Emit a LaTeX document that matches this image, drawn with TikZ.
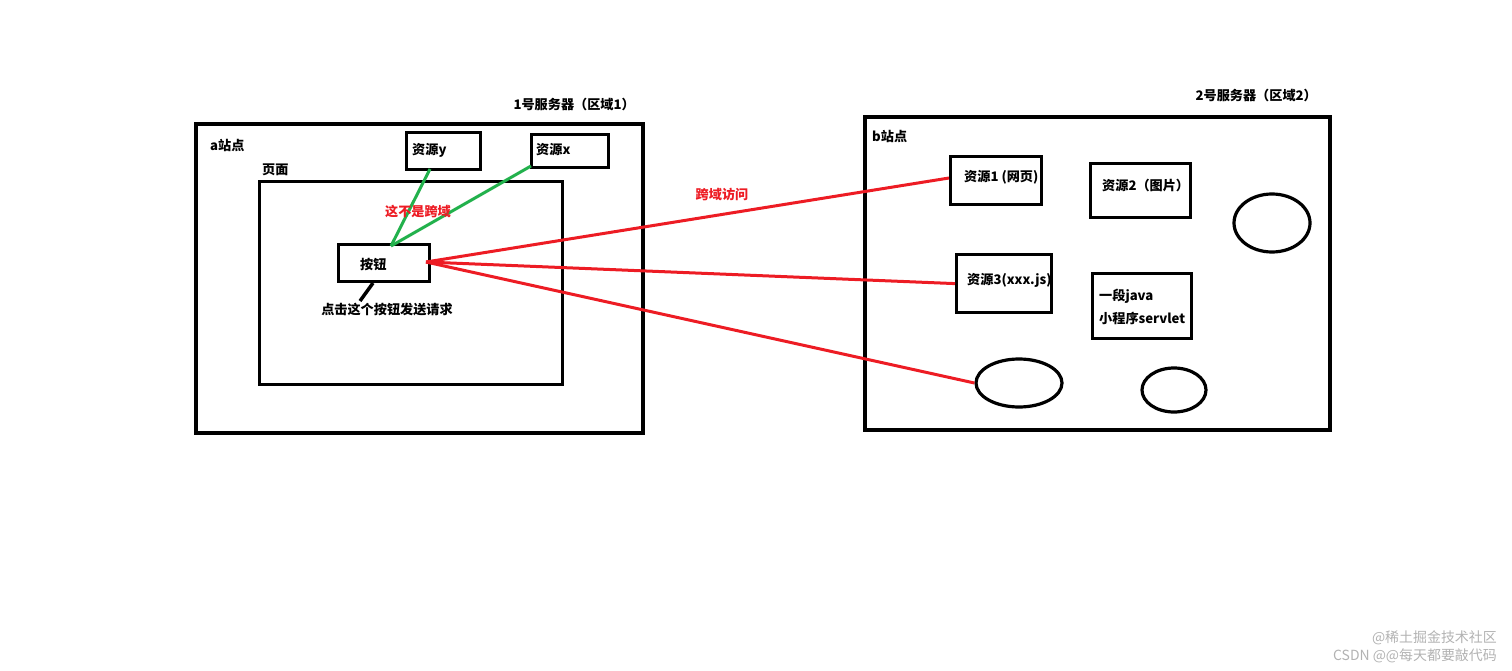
\documentclass[tikz,border=0pt]{standalone}
\usepackage{fontspec}
\newfontfamily\cjk{Noto Sans CJK SC}
\usetikzlibrary{shapes.geometric,calc}
\definecolor{paintred}{RGB}{237,28,36}
\definecolor{paintgreen}{RGB}{34,177,76}
\tikzset{
  box/.style={draw, line width=3.2bp, anchor=north west, inner sep=0pt},
  bigbox/.style={draw, line width=4bp, anchor=north west, inner sep=0pt},
  oval/.style={draw, ellipse, line width=3.2bp, inner sep=0pt},
  lbl/.style={font=\cjk\bfseries\fontsize{13.2}{16}\selectfont, inner sep=0pt, anchor=west},
  redlbl/.style={lbl, text=paintred},
  redline/.style={draw=paintred, line width=3bp},
  greenline/.style={draw=paintgreen, line width=3bp},
  wm/.style={font=\cjk\fontsize{14}{15}\selectfont, text=black!30, inner sep=0pt, anchor=east}
}
\begin{document}
\begin{tikzpicture}[x=1bp,y=-1bp]
\useasboundingbox (0,0) rectangle (1512,671);
% left server
\node[bigbox, minimum width=447bp, minimum height=309bp] (A) at (194,122) {};
\node[lbl, anchor=east] (A1) at (635,105) {1号服务器（区域1）};
\node[lbl] (Aa) at (210,145) {a站点};
\node[lbl] (Ap) at (262,170) {页面};
\node[box, minimum width=303bp, minimum height=203bp] (page) at (258,180) {};
\node[box, minimum width=74bp, minimum height=37bp] (ry) at (405,131) {};
\node[lbl] at (412,150) {资源y};
\node[box, minimum width=77bp, minimum height=33bp] (rx) at (530,133) {};
\node[lbl] at (536,150) {资源x};
\node[box, minimum width=91bp, minimum height=37bp] (btn) at (337,243) {};
\node[lbl] at (360,264) {按钮};
\node[lbl, anchor=center] (click) at (387,310) {点击这个按钮发送请求};
\coordinate (btnb) at (373,283);
\coordinate (clickt) at (360,301);
\draw[line width=3.5bp] (btnb) -- (clickt);
\coordinate (gy) at (430,169);
\coordinate (gx) at (531,166);
\coordinate (gb) at (391,246);
\draw[greenline] (gy) -- (gb);
\draw[greenline] (gx) -- (gb);
\node[redlbl, anchor=center] (notcross) at (418,211) {这不是跨域};
% right server
\node[bigbox, minimum width=465bp, minimum height=313bp] (B) at (863,115) {};
\node[lbl, anchor=east] (B2) at (1317,96) {2号服务器（区域2）};
\node[lbl] (Bb) at (872,136) {b站点};
\node[box, minimum width=91bp, minimum height=48bp] (r1) at (949,155) {};
\node[lbl] at (964,177) {资源1 (网页)};
\node[box, minimum width=100bp, minimum height=54bp] (r2) at (1089,162) {};
\node[lbl] at (1102,186) {资源2（图片）};
\node[oval, minimum width=76bp, minimum height=58bp] (e1) at (1272,223) {};
\node[box, minimum width=95bp, minimum height=58bp] (r3) at (955,253) {};
\node[lbl] at (967,280) {资源3(xxx.js)};
\node[box, minimum width=99bp, minimum height=65bp] (jv) at (1091,272) {};
\node[lbl] at (1099,296) {一段java};
\node[lbl] at (1099,318) {小程序servlet};
\node[oval, minimum width=86bp, minimum height=48bp] (e2) at (1019,383) {};
\node[oval, minimum width=64bp, minimum height=44bp] (e3) at (1174,390) {};
% red connectors
\coordinate (rs) at (426,262);
\draw[redline] (rs) -- (r1.west |- 0,178);
\draw[redline] (rs) -- (r3.west);
\draw[redline] (rs) -- (e2.west);
\node[redlbl, anchor=center] (cross) at (722,194) {跨域访问};
% watermark
\node[wm] at (1497,638) {@稀土掘金技术社区};
\node[wm] at (1497,656) {CSDN @@每天都要敲代码};
\end{tikzpicture}
\end{document}
